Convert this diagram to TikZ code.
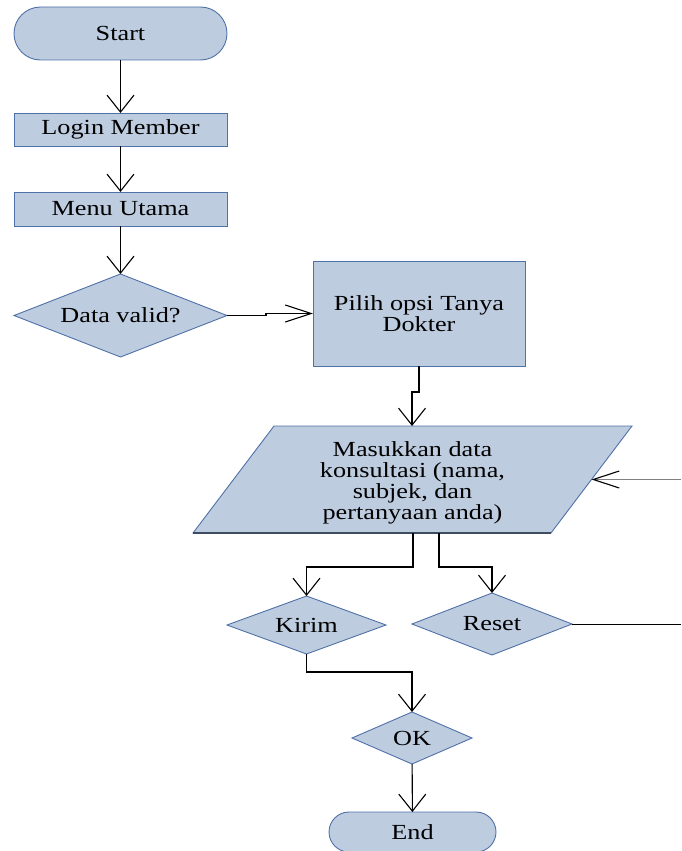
\documentclass[tikz,border=0pt]{standalone}
\usepackage{fontspec}
\setmainfont{Liberation Serif}[FakeStretch=1.22]
\usetikzlibrary{shapes.geometric,arrows.meta}
\definecolor{boxfill}{RGB}{190,204,224}
\definecolor{boxedge}{RGB}{79,113,168}
\definecolor{shadowedge}{RGB}{62,76,96}
\definecolor{feedline}{RGB}{128,128,128}
\begin{document}
\begin{tikzpicture}[x=1pt,y=-1pt,
  shp/.style={draw=boxedge, fill=boxfill, line width=0.9pt, inner sep=0pt,
    outer sep=0pt, align=center, font=\fontsize{21.5}{21}\selectfont},
  term/.style={shp, rectangle, rounded corners=#1},
  procbox/.style={shp, rectangle},
  decide/.style={shp, diamond},
  label/.style={inner sep=0pt, align=center, font=\fontsize{21.5}{21}\selectfont},
  conn/.style={black, line width=1.1pt},
  varr/.style={-{Straight Barb[length=17pt,width=27pt]}},
  harr/.style={-{Straight Barb[length=26pt,width=17pt]}}
]
\useasboundingbox (0,0) rectangle (681,851);
\clip (0,0) rectangle (681,851);

% left column
\node[term=26.5pt, minimum width=213pt, minimum height=53pt] (start) at (120.5,33.5) {Start};
\node[procbox, minimum width=213pt, minimum height=33pt] (login) at (120.5,129.5) {Login Member};
\node[procbox, minimum width=213pt, minimum height=34pt] (menu) at (120.5,209) {Menu Utama};
\node[decide, aspect=2.57, minimum width=213pt, minimum height=83pt] (valid) at (120.5,315.5) {Data valid?};

% main process
\node[procbox, minimum width=212pt, minimum height=105pt] (pilih) at (419,313.5) {Pilih opsi Tanya\\Dokter};

% input/output parallelogram with its darker lower edge
\path[shp] (274,426) -- (632,426) -- (551,533) -- (193,533) -- cycle;
\draw[shadowedge, line width=1.6pt] (193,533) -- (551,533);
\node[label] (data) at (412.5,483) {Masukkan data\\konsultasi (nama,\\subjek, dan\\pertanyaan anda)};
\coordinate (datatop) at (412,426);
\coordinate (dataright) at (591.5,479.5);
\coordinate (databotL) at (413,533);
\coordinate (databotR) at (439,533);

% choices
\node[decide, aspect=2.74, minimum width=159pt, minimum height=58pt] (kirim) at (306.5,625) {Kirim};
\node[decide, aspect=2.58, minimum width=160pt, minimum height=62pt] (reset) at (492,624) {Reset};
\node[decide, aspect=2.3, minimum width=120pt, minimum height=52pt] (ok) at (412,738) {OK};
\node[term=20pt, minimum width=167pt, minimum height=40pt] (end) at (412.5,832) {End};

% loose ends at the right border
\coordinate (loopin) at (681,479.5);
\coordinate (loopout) at (681,624);

% connectors
\draw[conn, varr] (start) -- (login);
\draw[conn, varr] (login) -- (menu);
\draw[conn, varr] (menu) -- (valid);
\draw[conn, harr] (valid.east) -- ++(39,0) |- (pilih.west);
\draw[conn, varr] (pilih.south) -- ++(0,26) -| (datatop);
\draw[feedline, line width=1.5pt, -{Straight Barb[length=26pt,width=17pt,color=black,line width=1.1pt]}] (loopin) -- (dataright);
\draw[conn, varr] (databotL) -- ++(0,34) -| (kirim.north);
\draw[conn, varr] (databotR) -- ++(0,34) -| (reset.north);
\draw[conn, line width=0.9pt] (reset.east) -- (loopout);
\draw[conn, varr] (kirim.south) -- ++(0,18) -| (ok.north);
\draw[conn, varr] (ok) -- (end);
\end{tikzpicture}
\end{document}
